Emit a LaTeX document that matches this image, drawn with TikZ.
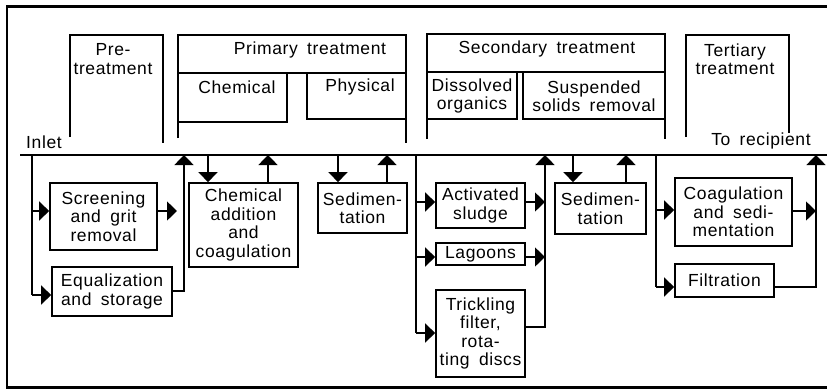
\documentclass[tikz,border=0pt]{standalone}
\usepackage{fontspec}
\setmainfont{Liberation Sans}[LetterSpace=3.5,WordSpace=1.7]
\usetikzlibrary{arrows.meta}
\begin{document}
\begin{tikzpicture}[x=1pt,y=-1pt,
  lbl/.style={font=\fontsize{17.5}{18.5}\selectfont, align=center, inner sep=0pt},
  box/.style={lbl, draw, line width=1.7pt, minimum width=#1},
  conn/.style={line width=1.5pt},
  arr/.style={conn, -{Triangle[length=10pt,width=19pt]}},
  hdr/.style={line width=1.7pt},
  mainline/.style={line width=2.2pt},
  frame/.style={line width=2.2pt}]
\useasboundingbox (0,0) rectangle (827,389);
% frame
\draw[frame] (827,6.5) -- (7,6.5) -- (7,387.5) -- (827,387.5);
% main line
\coordinate (mL) at (20,155);
\coordinate (mR) at (827,155);
\draw[mainline] (mL) -- (mR);
% labels on the main line
\node[lbl] (inlet) at (44,142) {Inlet};
\node[lbl] (torec) at (761,141) {To recipient};

% header boxes
\draw[hdr] (70,137) -- (70,35) -- (163,35) -- (163,143);
\node[lbl] (pre) at (113,59) {Pre-\\treatment};

\draw[hdr] (178,138) -- (178,35) -- (406,35) -- (406,143);
\draw[hdr] (178,73) -- (406,73);
\draw[hdr] (178,122) -- (287,122) -- (287,73);
\draw[hdr] (406,119) -- (307,119) -- (307,73);
\node[lbl] (prim) at (310,49.5) {Primary treatment};
\node[lbl] (chem) at (237,87) {Chemical};
\node[lbl] (phys) at (360,87) {Physical};

\draw[hdr] (427,139) -- (427,34) -- (665,34) -- (665,139);
\draw[hdr] (427,72) -- (665,72);
\draw[hdr] (427,119) -- (517,119) -- (517,72);
\draw[hdr] (665,119) -- (523,119) -- (523,72);
\node[lbl] (sec) at (547,49) {Secondary treatment};
\node[lbl] (diss) at (472,96) {Dissolved\\organics};
\node[lbl] (susp) at (594,96) {Suspended\\solids removal};

\draw[hdr] (686,137) -- (686,35) -- (789,35) -- (789,133);
\node[lbl] (tert) at (735,59) {Tertiary\\treatment};

% process boxes
\node[box=107pt, minimum height=67pt] (scr) at (103.5,216.5) {Screening\\and grit\\removal};
\node[box=120pt, minimum height=49pt] (equ) at (112,291.5) {Equalization\\and storage};
\node[box=109pt, minimum height=84pt] (cadd) at (243.5,225) {Chemical\\addition\\and\\coagulation};
\node[box=89pt, minimum height=50pt] (sed1) at (362.5,208) {Sedimen-\\tation};
\node[box=89pt, minimum height=45pt] (act) at (480.5,205.5) {Activated\\sludge};
\node[box=89pt, minimum height=22pt] (lag) at (480.5,254) {Lagoons};
\node[box=89pt, minimum height=87pt] (trick) at (480.5,333.5) {Trickling\\filter,\\rota-\\ting discs};
\node[box=91pt, minimum height=51pt] (sed2) at (600.5,208.5) {Sedimen-\\tation};
\node[box=117pt, minimum height=68pt] (coag) at (733.5,212) {Coagulation\\and sedi-\\mentation};
\node[box=99pt, minimum height=33pt] (filt) at (724.5,280.5) {Filtration};

% inlet branch
\coordinate (b1t) at (32,155);
\coordinate (b1b) at (32,295);
\draw[conn] (b1t) -- (b1b);
\draw[arr] (b1t |- 0,211) -- (scr.west |- 0,211);
\draw[arr] (b1b) -- (equ.west |- b1b);
\coordinate (r1a) at (177,211);
\draw[arr] (scr.east |- r1a) -- (r1a);
\coordinate (r1b) at (184,291);
\coordinate (r1t) at (184,155);
\draw[arr] (equ.east |- r1b) -- (r1b) -- (r1t);

% primary
\coordinate (c1) at (208,155);
\coordinate (c2) at (268,155);
\draw[arr] (c1) -- (cadd.north -| c1);
\draw[arr] (cadd.north -| c2) -- (c2);
\coordinate (c3) at (338,155);
\coordinate (c4) at (387,155);
\draw[arr] (c3) -- (sed1.north -| c3);
\draw[arr] (sed1.north -| c4) -- (c4);

% secondary
\coordinate (b2t) at (416,155);
\coordinate (b2b) at (416,333);
\draw[conn] (b2t) -- (b2b);
\draw[arr] (b2t |- 0,202) -- (act.west |- 0,202);
\draw[arr] (b2t |- 0,257) -- (lag.west |- 0,257);
\draw[arr] (b2b) -- (trick.west |- b2b);
\coordinate (k1t) at (545,155);
\coordinate (k1b) at (545,327);
\draw[arr] (act.east |- 0,202) -- (k1t |- 0,202);
\draw[arr] (lag.east |- 0,257) -- (k1t |- 0,257);
\draw[arr] (trick.east |- k1b) -- (k1b) -- (k1t);
\coordinate (c5) at (573,155);
\coordinate (c6) at (626,155);
\draw[arr] (c5) -- (sed2.north -| c5);
\draw[arr] (sed2.north -| c6) -- (c6);

% tertiary
\coordinate (b3t) at (656,155);
\coordinate (b3b) at (656,287);
\draw[conn] (b3t) -- (b3b);
\draw[arr] (b3t |- 0,210) -- (coag.west |- 0,210);
\draw[arr] (b3b) -- (filt.west |- b3b);
\coordinate (k2t) at (816,155);
\coordinate (k2b) at (816,287);
\draw[arr] (coag.east |- 0,211) -- (k2t |- 0,211);
\draw[arr] (filt.east |- k2b) -- (k2b) -- (k2t);
\end{tikzpicture}
\end{document}
